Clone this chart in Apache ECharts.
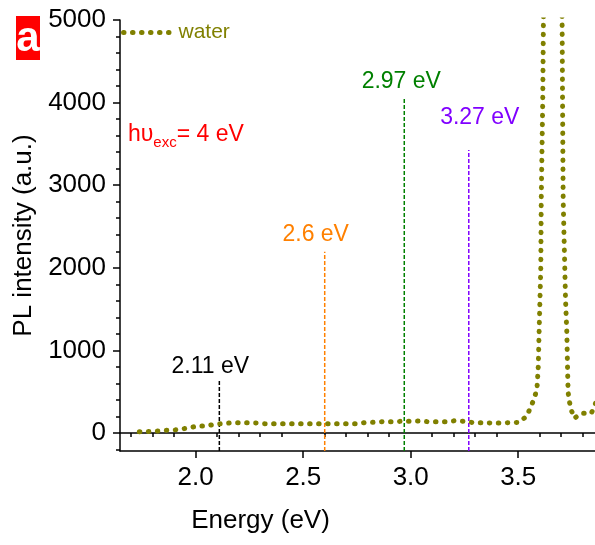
<!DOCTYPE html>
<html>
<head>
<meta charset="utf-8">
<script src="https://cdn.jsdelivr.net/npm/echarts@6/dist/echarts.min.js"></script>
<style>html,body{margin:0;padding:0;background:#fff}#c{width:595px;height:545px}</style>
</head>
<body>
<div id="c"></div>
<script>
// ---- data ----
const energy = [1.738,1.767,1.798,1.829,1.857,1.899,1.936,1.973,2.009,2.051,2.093,2.132,2.167,2.203,2.240,2.282,2.322,2.364,2.405,2.447,2.488,2.532,2.572,2.614,2.659,2.699,2.742,2.784,2.826,2.868,2.912,2.953,2.997,3.037,3.079,3.122,3.164,3.207,3.248,3.291,3.333,3.375,3.419,3.460,3.504,3.540,3.556,3.573,3.587,3.593,3.597,3.605,3.607,3.614,3.617,3.625,3.645,3.660,3.680,3.698,3.704,3.706,3.709,3.720,3.726,3.730,3.732,3.738,3.747,3.761,3.780,3.798,3.820,3.840,3.857,3.870];
const intensity = [16,16,20,24,32,36,48,64,85,85,109,113,125,125,125,121,113,113,113,113,113,113,113,113,113,113,113,125,129,137,137,141,141,145,137,137,137,149,141,125,125,121,121,125,129,206,303,408,530,799,1211,2010,2821,4031,4939,6500,9000,10000,9000,6500,5000,4031,2821,1610,1211,700,492,379,275,178,215,238,238,240,339,450];
const seriesName = 'water';
const markEnergies = [2.11, 2.6, 2.97, 3.27];
const markTops = [650, 2195, 4064, 3426];
const markLabels = ['2.11 eV', '2.6 eV', '2.97 eV', '3.27 eV'];
const markColors = ['#000000', '#FF8000', '#008000', '#8000FF'];
const xMajorTicks = [2.0, 2.5, 3.0, 3.5];
const xMinorTicks = [1.7,1.8,1.9,2.1,2.2,2.3,2.4,2.6,2.7,2.8,2.9,3.1,3.2,3.3,3.4,3.6,3.7,3.8];
const yMajorTicks = [0, 1000, 2000, 3000, 4000, 5000];
const yMinorTicks = [-200,200,400,600,800,1200,1400,1600,1800,2200,2400,2600,2800,3200,3400,3600,3800,4200,4400,4600,4800];
const xMin = 1.648, xMax = 3.857, yMin = -218, yMax = 5000;

const FONT = "'Liberation Sans', Arial, sans-serif";
const OLIVE = '#808000';
const chart = echarts.init(document.getElementById('c'), null, {renderer: 'canvas'});

const lineData = energy.map((e, i) => [e, intensity[i]]);
const labelOffsets = [[-9, 5], [-9, 0], [-3, 2], [11, -15]];
const dotStyle = {color: OLIVE, width: 5, type: [0.5, 8.5], cap: 'round'};

const series = [{
  name: seriesName, type: 'line', data: lineData, symbol: 'none', showSymbol: false,
  clip: true, smooth: false,
  lineStyle: dotStyle,
  itemStyle: {color: OLIVE},
  z: 3
}];
markEnergies.forEach((e, i) => {
  series.push({
    type: 'line', data: [[e, yMin], [e, markTops[i]]], symbol: 'none', clip: false,
    lineStyle: {color: markColors[i], width: 1.5, type: [4, 2]}, silent: true, z: 2
  });
  series.push({
    type: 'scatter', data: [[e, markTops[i]]], symbolSize: 2, itemStyle: {color: 'rgba(0,0,0,0)', opacity: 1},
    label: {show: true, position: 'top', distance: 5, formatter: markLabels[i], color: markColors[i],
            opacity: 1, fontSize: 23, fontFamily: FONT, offset: labelOffsets[i]},
    silent: true, z: 4
  });
});

const axisLineStyle = {color: '#000', width: 1.5};
chart.setOption({
  animation: false,
  backgroundColor: '#fff',
  grid: {left: 120, right: 0, top: 20, bottom: 94, containLabel: false},
  legend: {
    data: [seriesName], left: 121, top: 22, padding: 0,
    itemWidth: 50, itemHeight: 14, itemGap: 5,
    textStyle: {color: OLIVE, fontSize: 21, fontFamily: FONT},
    lineStyle: dotStyle,
    itemStyle: {color: 'rgba(0,0,0,0)', borderWidth: 0, opacity: 0}
  },
  xAxis: [{
    type: 'value', min: xMin, max: xMax, position: 'bottom',
    axisLine: {show: true, onZero: false, lineStyle: axisLineStyle},
    axisTick: {show: true, length: 7, lineStyle: axisLineStyle, customValues: xMajorTicks},
    axisLabel: {customValues: xMajorTicks, formatter: v => v.toFixed(1), fontSize: 26, color: '#000', fontFamily: FONT, margin: 14},
    splitLine: {show: false},
    name: 'Energy (eV)', nameLocation: 'middle', nameGap: 57,
    nameTextStyle: {fontSize: 26, color: '#000', fontFamily: FONT, padding: [0, 194, 0, 0]}
  }, {
    type: 'value', min: xMin, max: xMax, position: 'bottom',
    axisLine: {show: false},
    axisTick: {show: true, length: 4, lineStyle: axisLineStyle, customValues: xMinorTicks},
    axisLabel: {show: false}, splitLine: {show: false}
  }, {
    type: 'value', min: xMin, max: xMax, position: 'top',
    axisLine: {show: true, lineStyle: axisLineStyle},
    axisTick: {show: false}, axisLabel: {show: false}, splitLine: {show: false}
  }],
  yAxis: [{
    type: 'value', min: yMin, max: yMax, position: 'left',
    axisLine: {show: true, onZero: false, lineStyle: axisLineStyle},
    axisTick: {show: true, length: 7, lineStyle: axisLineStyle, customValues: yMajorTicks},
    axisLabel: {customValues: yMajorTicks, formatter: v => String(v), fontSize: 26, color: '#000', fontFamily: FONT, margin: 14},
    splitLine: {show: false},
    name: 'PL intensity (a.u.)', nameLocation: 'middle', nameGap: 81,
    nameTextStyle: {fontSize: 26, color: '#000', fontFamily: FONT}
  }, {
    type: 'value', min: yMin, max: yMax, position: 'left',
    axisLine: {show: false},
    axisTick: {show: true, length: 4, lineStyle: axisLineStyle, customValues: yMinorTicks},
    axisLabel: {show: false}, splitLine: {show: false}
  }],
  graphic: [
    {type: 'rect', shape: {x: 16, y: 16, width: 24, height: 44}, style: {fill: '#FF0000'}, z: 10},
    {type: 'text', x: 28, y: 39, style: {text: 'a', fill: '#fff', font: "bold 42px 'Liberation Sans', Arial, sans-serif", align: 'center', verticalAlign: 'middle'}, z: 11},
    {type: 'text', x: 128, y: 120, style: {
      text: '{m|hυ}{s|exc}{m|= 4 eV}', verticalAlign: 'top', align: 'left',
      rich: {
        m: {fontSize: 23, lineHeight: 30, fill: '#FF0000', fontFamily: FONT},
        s: {fontSize: 15, lineHeight: 15, verticalAlign: 'bottom', fill: '#FF0000', fontFamily: FONT}
      }
    }, z: 11}
  ],
  series: series
});
</script>
</body>
</html>
